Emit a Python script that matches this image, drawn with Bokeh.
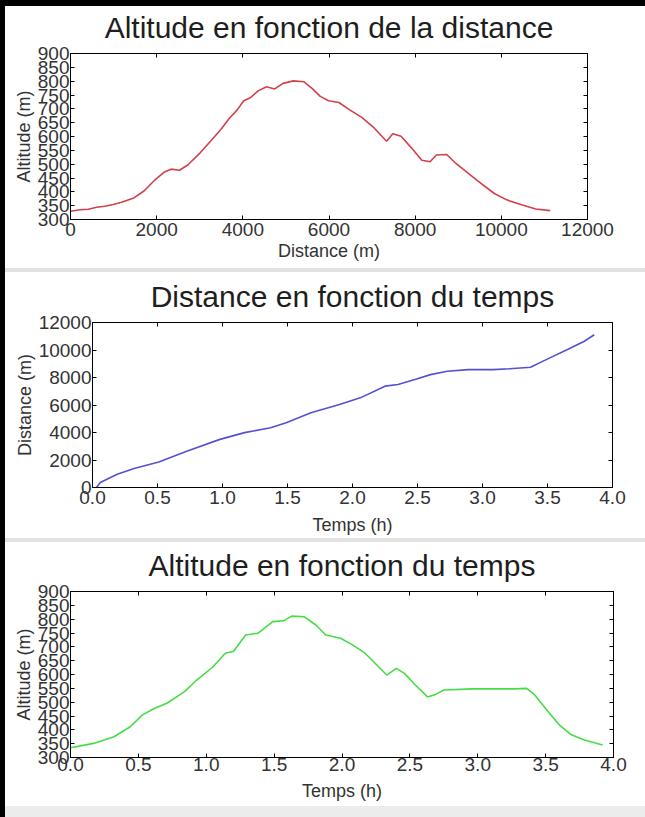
from bokeh.plotting import figure
from bokeh.models import LinearAxis, FixedTicker, Range1d, Div, NumeralTickFormatter, CustomJSTickFormatter
from bokeh.layouts import column, row
from bokeh.embed import file_html
from bokeh.resources import INLINE

# ---- data ----
profile_distance_m = [0, 221, 413, 606, 798, 990, 1183, 1471, 1712, 1952, 2192, 2337, 2529, 2721,
                      3010, 3250, 3490, 3683, 3875, 4019, 4163, 4356, 4548, 4740, 4933, 5173, 5413,
                      5606, 5798, 5990, 6231, 6471, 6760, 7048, 7337, 7481, 7673, 7913, 8154, 8346,
                      8490, 8731, 8923, 9163, 9452, 9837, 10125, 10413, 10798, 11135]
profile_altitude_m = [330, 335, 337, 344, 348, 354, 362, 378, 404, 442, 473, 482, 478, 497,
                      541, 583, 625, 665, 697, 729, 739, 765, 780, 772, 792, 801, 798,
                      774, 745, 729, 723, 697, 669, 631, 583, 610, 601, 559, 514, 509,
                      533, 535, 506, 476, 440, 394, 371, 356, 338, 332]

time_h = [0.03, 0.06, 0.19, 0.32, 0.51, 0.73, 0.98, 1.17, 1.37, 1.49, 1.68, 1.90, 2.06, 2.25,
          2.35, 2.48, 2.60, 2.73, 2.89, 3.08, 3.21, 3.37, 3.49, 3.65, 3.78, 3.86]
distance_m = [0, 360, 970, 1380, 1860, 2660, 3500, 3990, 4350, 4710, 5430, 6040, 6520, 7370,
              7490, 7850, 8210, 8450, 8570, 8570, 8640, 8740, 9300, 10020, 10620, 11110]

time_alt_h = [0.0, 0.17, 0.32, 0.44, 0.53, 0.62, 0.71, 0.84, 0.93, 1.05, 1.14, 1.20, 1.29, 1.38,
              1.49, 1.57, 1.63, 1.72, 1.81, 1.88, 1.99, 2.08, 2.17, 2.33, 2.40, 2.46, 2.54,
              2.63, 2.69, 2.75, 2.96, 3.27, 3.36, 3.42, 3.51, 3.60, 3.69, 3.78, 3.92]
altitude_m = [335, 351, 375, 411, 454, 478, 496, 538, 580, 628, 677, 683, 743, 749,
              791, 794, 811, 809, 778, 743, 731, 706, 677, 598, 622, 604, 562,
              519, 528, 544, 548, 548, 550, 526, 471, 418, 382, 364, 345]

alt_ticks = list(range(300, 901, 50))
dist_ticks = list(range(0, 12001, 2000))
time_ticks = [0.0, 0.5, 1.0, 1.5, 2.0, 2.5, 3.0, 3.5, 4.0]

titles = ["Altitude en fonction de la distance", "Distance en fonction du temps",
          "Altitude en fonction du temps"]
x_labels = ["Distance (m)", "Temps (h)", "Temps (h)"]
y_labels = ["Altitude (m)", "Distance (m)", "Altitude (m)"]

FONT = "Liberation Sans"
W = 640


def style_axis(ax):
    ax.major_tick_in = 4
    ax.major_tick_out = 0
    ax.minor_tick_in = 0
    ax.minor_tick_out = 0
    ax.axis_line_color = "black"
    ax.major_tick_line_color = "black"
    ax.major_label_text_font = FONT
    ax.major_label_text_font_size = "19px"
    ax.major_label_text_color = "#333333"
    ax.axis_label_text_font = FONT
    ax.axis_label_text_font_size = "18px"
    ax.axis_label_text_font_style = "normal"
    ax.axis_label_text_color = "#333333"


def make_plot(title, xs, ys, color, xr, yr, xt, yt, xl, yl, h, left, right, top, bottom,
              xfmt=None, xstand=3, xlab_stand=2, title_stand=10):
    p = figure(width=W, height=h,
               min_border_left=left, min_border_right=right,
               min_border_top=top, min_border_bottom=bottom,
               x_range=Range1d(*xr), y_range=Range1d(*yr),
               output_backend="svg", toolbar_location=None)
    p.grid.visible = False
    p.outline_line_color = "black"
    p.background_fill_color = "white"
    p.border_fill_color = "white"

    p.xaxis.ticker = FixedTicker(ticks=xt)
    p.yaxis.ticker = FixedTicker(ticks=yt)
    if xfmt is not None:
        p.xaxis.formatter = xfmt
    p.xaxis.axis_label = xl
    p.yaxis.axis_label = yl
    for ax in p.xaxis + p.yaxis:
        style_axis(ax)
    p.xaxis.major_label_standoff = xstand
    p.xaxis.axis_label_standoff = xlab_stand
    p.yaxis.major_label_standoff = 1
    p.yaxis.axis_label_standoff = 1

    blank = CustomJSTickFormatter(code="return ''")
    # the top axis carries the chart title as its axis label
    top_ax = LinearAxis(ticker=FixedTicker(ticks=xt), formatter=blank, axis_label=title)
    right_ax = LinearAxis(ticker=FixedTicker(ticks=yt), formatter=blank)
    style_axis(top_ax)
    style_axis(right_ax)
    top_ax.major_label_standoff = 0
    top_ax.axis_label_standoff = title_stand
    top_ax.axis_label_text_font_size = "30px"
    top_ax.axis_label_text_color = "#1e1e1e"
    right_ax.major_label_standoff = 0
    p.add_layout(top_ax, "above")
    p.add_layout(right_ax, "right")

    p.line(xs, ys, line_color=color, line_width=1.6)
    return p


fmt = NumeralTickFormatter(format="0.0")
p1 = make_plot(titles[0], profile_distance_m, profile_altitude_m, "#d2404c",
               (0, 12000), (300, 900), dist_ticks, alt_ticks, x_labels[0], y_labels[0],
               262, 65, 58, 47, 49, xstand=3, xlab_stand=2)
p2 = make_plot(titles[1], time_h, distance_m, "#5252d2",
               (0, 4), (0, 12000), time_ticks, dist_ticks, x_labels[1], y_labels[1],
               266, 87, 33, 50, 51, xfmt=fmt, xstand=3, xlab_stand=8)
p3 = make_plot(titles[2], time_alt_h, altitude_m, "#46dc46",
               (0, 4), (300, 900), time_ticks, alt_ticks, x_labels[2], y_labels[2],
               264, 65, 32, 49, 49, xfmt=fmt, xstand=0, xlab_stand=7)


def block(w, h, c):
    return Div(text="", width=w, height=h, margin=0, styles={"background-color": c})


charts = column(row(p1), block(W, 4, "#e2e2e2"), row(p2), block(W, 4, "#e2e2e2"), row(p3),
                block(W, 11, "#ececec"), spacing=0)
layout = column(block(645, 6, "#000000"),
                row(block(5, 811, "#000000"), charts, spacing=0),
                spacing=0)

open("out.html", "w").write(file_html(layout, INLINE))
